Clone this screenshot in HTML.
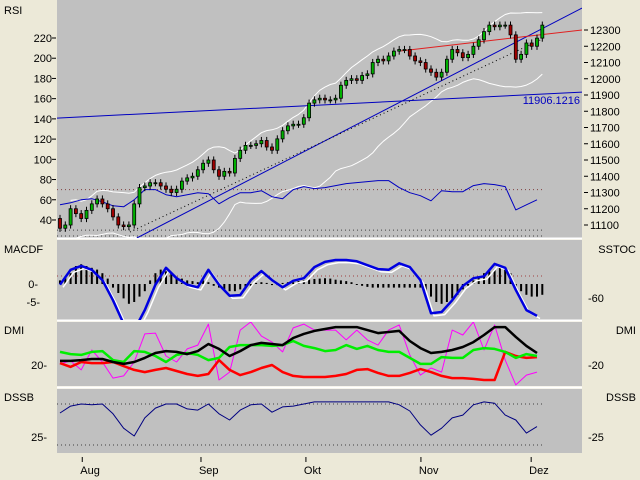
<!DOCTYPE html>
<html><head><meta charset="utf-8">
<style>
html,body{margin:0;padding:0;background:#ECE9D8;}
svg{display:block;font-family:"Liberation Sans",sans-serif;font-size:11px;}
</style></head>
<body>
<svg id="chart" width="640" height="480" xmlns="http://www.w3.org/2000/svg">
<rect x="0" y="0" width="640" height="480" fill="#ECE9D8"/>
<g id="panels"></g>
<g id="marks"></g>
<g id="labels"></g>
</svg>
<script>
// ---------- data ----------
const closes = [11080,11100,11200,11170,11140,11190,11230,11260,11230,11200,
11150,11100,11090,11100,11230,11330,11340,11360,11360,11340,
11320,11300,11320,11370,11390,11400,11440,11480,11500,11440,
11400,11430,11420,11510,11560,11590,11590,11600,11620,11580,
11560,11630,11680,11710,11720,11720,11760,11850,11870,11880,
11870,11870,11880,11960,11990,12000,11990,12020,12030,12100,
12120,12110,12140,12170,12180,12180,12140,12110,12100,12060,
12040,12010,12040,12120,12180,12160,12130,12150,12200,12240,
12290,12330,12320,12330,12330,12270,12120,12150,12220,12200,
12250,12330];
const firstOpen = 11140;
const rsiVals = [55,57,60,61,58,54,53,60,70,70,65,63,65,67,66,56,62,67,67,69,63,61,70,73,71,72,74,76,77,78,79,79,72,67,64,59,69,68,68,74,76,75,73,50,55,60];
const macdHist = [1,2,3,5,5.5,5,4.5,4,3,1.5,
-1,-2.5,-4,-5.5,-5,-3.5,-2,
1,3,4,3.5,3,2,1.5,
1,0.8,0.5,1,0.5,-0.5,-1,
-1.5,-2,-2,-1.5,-1,
-0.5,0.3,0.5,0.3,-0.3,-0.3,0.3,0.5,0.5,0.8,
1,1.2,1.4,1.5,1.6,1.5,1.2,1,0.8,0.5,
-0.2,-0.5,-0.8,-1,-1,-1,-1,-1,-1,-1,-1,-1,-1,
-2,-3.5,-5,-5.5,-5,-4,-3,-1.5,-0.5,
1,2,3,3.5,4,4.5,4.5,3,
-1,-2,-3,-3.5,-3.5,-3];
const sstoc = [62,85,91,85,69,38,2,-8,23,62,88,72,62,58,85,62,45,46,69,83,69,58,68,72,89,97,100,100,98,92,86,85,95,89,69,18,20,38,60,72,75,94,88,54,23,14];
const adx = [22.7,22.7,23.3,24,24,22,20.7,22,24.7,28,29.3,28.7,27.3,29.3,34,30.7,26,29.3,33.3,34.7,34,33.3,38,40.7,42.7,44,45.3,45.3,45.3,43.3,41.3,42,42.7,36,31.3,28,28.7,30,32,35.3,40,45.3,45.3,38.7,32.7,28];
const diPlus = [28.7,27.3,26.7,28.7,29.3,23.3,22,29.3,28.7,26,22,26.7,28,26.7,23.3,24.7,32,33.3,33.3,33.3,32.7,33.3,36,32.7,31.3,29.3,30,33.3,30.7,32.7,30,28.7,28.7,24.7,20.7,20.7,25.3,24.7,24.7,30,31.3,30.7,28.7,24.7,27.3,26];
const diMinus = [21.3,18.7,22,21.3,21.3,22,19.3,16.7,15.3,16.7,18,16,14,12.7,14,23.3,16.7,13.3,15.3,18,20,15.3,12.7,12,12,12,12.7,14,16.7,17.3,14.7,12.7,12.7,14.7,17.3,15.3,12.7,11.3,11.3,10.7,10,10,28.7,26,24.7,25.3];
const dmiRaw = [20.7,22.7,16.7,30,22,11.3,12.7,22,40.7,41.3,26,22,30.7,33.3,47.3,10,15.3,43.3,48.7,39.3,35.3,28.7,44.7,47.3,43.3,43.3,43.3,36.7,43.3,36.7,33.3,43.3,46.7,26.7,13.3,18,15.3,43.3,40,48.7,30,46.7,23.3,6.7,13.3,15.3];
const dssb = [78,95,100,98,100,76,41,22,66,90,100,100,88,85,100,76,61,85,98,100,80,93,95,100,105,105,105,105,105,105,105,105,98,83,49,24,41,66,73,98,105,102,73,61,29,45];
const leftTicks = [220,200,180,160,140,120,100,80,60,40];
const rightTicks = [12300,12200,12100,12000,11900,11800,11700,11600,11500,11400,11300,11200,11100];
const monthLabels = ["Aug","Sep","Okt","Nov","Dez"];
const monthDays = [4.2,26.6,46.4,68.1,88.9];
const hLineValue = "11906.1216";

// ---------- scales ----------
const L=57,R=582;
const xDay = i => 60 + i*5.3;
const xSample = k => xDay(k*2);
const yPrice = p => 30 + (12300-p)*0.1625;
const yRsi = v => 38 + (220-v)*1.011;
const yMacd = v => 284 - v*3.6;
const ySto = v => 325 - v*0.65;
const yDmi = v => 365 - (v-20)*1.5;
const yDss = v => 445 - v*0.41;

const NS="http://www.w3.org/2000/svg";
const panels=document.getElementById('panels'), marks=document.getElementById('marks'), labels=document.getElementById('labels');
function mk(tag, attrs, parent){const e=document.createElementNS(NS,tag);for(const k in attrs)e.setAttribute(k,attrs[k]);parent.appendChild(e);return e;}

[[0,238,'price-panel'],[240,81,'macd-panel'],[322,64,'dmi-panel'],[389,64,'dssb-panel']].forEach(p=>{
 const r=mk('rect',{x:L,y:p[0],width:R-L,height:p[1],fill:'#C0C0C0'},panels);
 
 
});
[238.5,320.5,387.5].forEach(y=>{
 const l=mk('line',{x1:L,x2:R,y1:y,y2:y,stroke:'#fff','stroke-width':2},panels);
 
 
});

const defs=mk('defs',{},document.getElementById('chart'));
[['cMain',0,238],['cMacd',240,80],['cDmi',322,64],['cDss',389,64]].forEach(c=>{
 const cp=mk('clipPath',{id:c[0]},defs);mk('rect',{x:L,y:c[1],width:R-L,height:c[2]},cp);
});

function dotted(y,color){const l=mk('line',{x1:L,x2:542,y1:y,y2:y,stroke:color,'stroke-dasharray':'1,3','stroke-width':1},marks);
 
 }
dotted(yRsi(70),'#804040');dotted(yRsi(30),'#404040');dotted(236,'#404040');
dotted(276,'#a04040');dotted(404,'#404040');dotted(445,'#404040');

function poly(pts,color,w,name,clip){const p=mk('polyline',{points:pts.map(q=>q[0].toFixed(1)+','+q[1].toFixed(1)).join(' '),fill:'none',stroke:color,'stroke-width':w,'clip-path':'url(#'+clip+')','stroke-linejoin':'round'},marks);
 
 return p;}

const up=[],lo=[];
closes.forEach((c,i)=>{if(i<2)return;const w=closes.slice(Math.max(0,i-19),i+1);const m=w.reduce((a,b)=>a+b,0)/w.length;
 const sd=Math.sqrt(w.reduce((a,b)=>a+(b-m)*(b-m),0)/w.length);up.push([xDay(i),yPrice(m+2*sd+20)]);lo.push([xDay(i),yPrice(m-2*sd-20)]);});
poly(up,'#ffffff',1,'bollinger-upper','cMain');poly(lo,'#ffffff',1,'bollinger-lower','cMain');

function tline(i1,p1,i2,p2,color,name,dash){const l=mk('line',{x1:xDay(i1),y1:yPrice(p1),x2:xDay(i2),y2:yPrice(p2),stroke:color,'stroke-width':1,'clip-path':'url(#cMain)'},marks);
 if(dash)l.setAttribute('stroke-dasharray','1,3');
 
 }
tline(-0.6,11758,98.5,11918,'#0000c0','horizontal-trendline');
tline(14.5,11020,98.5,12435,'#0000c0','rising-trendline');
tline(64.2,12171,98.5,12300,'#e02020','resistance-trendline');
tline(13.2,11057,90.6,12238,'#000000','dotted-trendline',true);

poly(rsiVals.map((v,k)=>[xSample(k),yRsi(v)]),'#0000c0',1,'rsi-line','cMain');

closes.forEach((c,i)=>{const o=i?closes[i-1]:firstOpen;const x=xDay(i);
 const hi=Math.max(o,c)+22,lo2=Math.min(o,c)-22;
 const w=mk('line',{x1:x,x2:x,y1:yPrice(hi),y2:yPrice(lo2),stroke:'#000'},marks);
 
 
 const top=yPrice(Math.max(o,c)),bh=Math.max(1,yPrice(Math.min(o,c))-top);
 const b=mk('rect',{x:x-1.5,y:top,width:3,height:bh,fill:c>=o?'#00b000':'#a00000',stroke:'#000','stroke-width':0.8},marks);
 
 
});

macdHist.forEach((v,i)=>{const x=xDay(i);const r=mk('rect',{x:x-1,y:Math.min(yMacd(v),yMacd(0)),width:2,height:Math.max(1,Math.abs(yMacd(v)-yMacd(0))),fill:'#000','clip-path':'url(#cMacd)'},marks);
 
 });
poly(sstoc.map((v,k)=>[xSample(k)+3,ySto(v-4)]),'#ffffff',1.5,'sstoc-signal','cMacd');
poly(sstoc.map((v,k)=>[xSample(k),ySto(v)]),'#0000e0',2.5,'sstoc-line','cMacd');

poly(dmiRaw.map((v,k)=>[xSample(k),yDmi(v)]),'#ff00ff',1,'dmi-raw-line','cDmi');
poly(diMinus.map((v,k)=>[xSample(k),yDmi(v)]),'#ff0000',2.5,'di-minus-line','cDmi');
poly(diPlus.map((v,k)=>[xSample(k),yDmi(v)]),'#00ee00',2.5,'di-plus-line','cDmi');
poly(adx.map((v,k)=>[xSample(k),yDmi(v)]),'#000000',2.5,'adx-line','cDmi');

poly(dssb.map((v,k)=>[xSample(k),yDss(v)]),'#000080',1,'dssb-line','cDss');

function txt(x,y,s,anchor,name,color){const t=mk('text',{x:x,y:y,'text-anchor':anchor||'start',fill:color||'#000'},labels);t.textContent=s;
 
 return t;}
function tick(x1,x2,y){const l=mk('line',{x1:x1,x2:x2,y1:y,y2:y,stroke:'#000'},labels);
 
 }
leftTicks.forEach(v=>{const y=yRsi(v);txt(52,y+4,String(v),'end','left-tick-label');tick(52,56,y);});
rightTicks.forEach(v=>{const y=yPrice(v);txt(590,y+4,String(v),'start','right-tick-label');tick(584,588,y);});
txt(4,14,'RSI','start','rsi-title');
txt(4,253,'MACDF','start','macdf-title');
txt(636,253,'SSTOC','end','sstoc-title');
txt(38,288,'0-','end','macd-zero-label');
txt(40,306,'-5-','end','macd-minus5-label');
txt(588,302,'-60','start','sstoc-60-label');
txt(4,334,'DMI','start','dmi-title-left');
txt(636,334,'DMI','end','dmi-title-right');
txt(47,369,'20-','end','dmi-20-label');
txt(588,369,'-20','start','dmi-20-right-label');
txt(4,401,'DSSB','start','dssb-title-left');
txt(636,401,'DSSB','end','dssb-title-right');
txt(47,441,'25-','end','dssb-25-label');
txt(588,441,'-25','start','dssb-25-right-label');
txt(580,104,hLineValue,'end','trendline-value-label','#0000c0');
monthLabels.forEach((m,j)=>{const x=xDay(monthDays[j]);const l=mk('line',{x1:x,x2:x,y1:457,y2:462,stroke:'#000'},labels);
 
 
 txt(x-2,474,m,'start','month-label');});
</script>
</body></html>
